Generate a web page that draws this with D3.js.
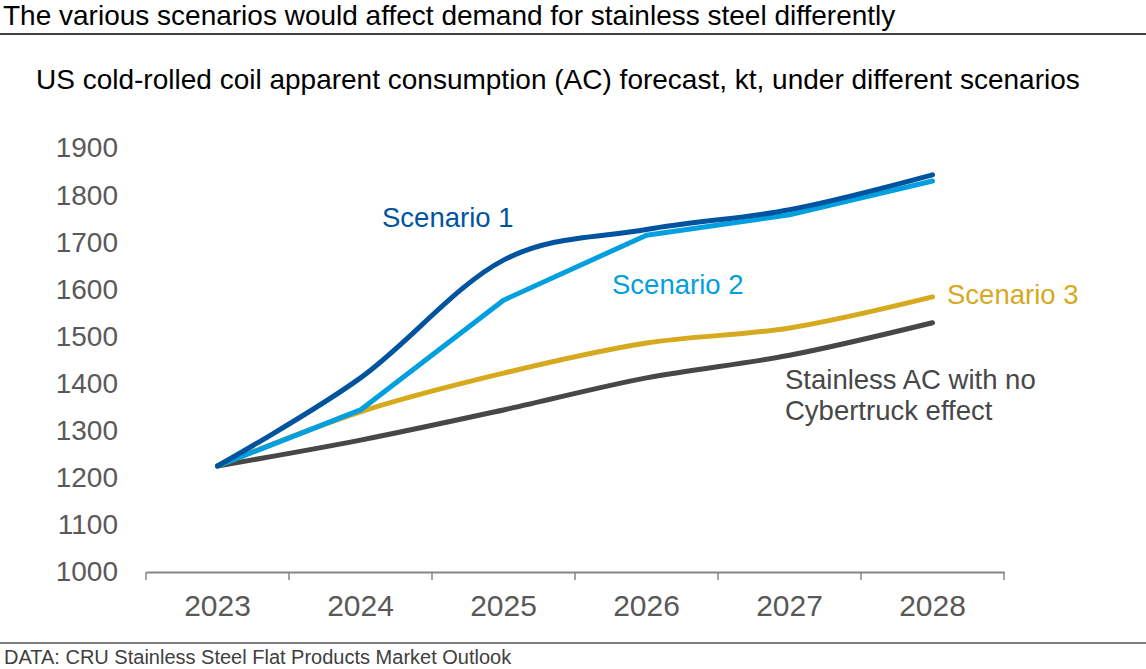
<!DOCTYPE html>
<html>
<head>
<meta charset="utf-8">
<script src="https://cdn.jsdelivr.net/npm/d3@7"></script>
<style>
  body { margin: 0; background: #fff; }
  svg { font-family: "Liberation Sans", Arial, sans-serif; display: block; }
</style>
</head>
<body>
<div id="chart"></div>
<script>
const width = 1146, height = 669;

// data
const years = ["2023", "2024", "2025", "2026", "2027", "2028"];
const scenario1 = [1225, 1412, 1662, 1727, 1769, 1843];
const scenario2 = [1225, 1344, 1577, 1715, 1758, 1830];
const scenario3 = [1225, 1340, 1422, 1486, 1518, 1584];
const noCybertruck = [1225, 1280, 1344, 1412, 1460, 1529];
const yTicks = [1000, 1100, 1200, 1300, 1400, 1500, 1600, 1700, 1800, 1900];

const svg = d3.select("#chart").append("svg")
    .attr("width", width)
    .attr("height", height);

// heading and rule
svg.append("text")
    .attr("x", 3).attr("y", 25)
    .attr("font-size", 28)
    .attr("fill", "#000")
    .text("The various scenarios would affect demand for stainless steel differently");
svg.append("line")
    .attr("x1", 0).attr("x2", width)
    .attr("y1", 34).attr("y2", 34)
    .attr("stroke", "#000").attr("stroke-width", 1.5);

svg.append("text")
    .attr("x", 36).attr("y", 89)
    .attr("font-size", 28)
    .attr("fill", "#000")
    .text("US cold-rolled coil apparent consumption (AC) forecast, kt, under different scenarios");

const x = d3.scaleBand()
    .domain(years)
    .range([146, 1004]);

const y = d3.scaleLinear()
    .domain([1000, 1900])
    .range([572, 148]);

// y axis: labels only
const yAxis = svg.append("g")
    .attr("transform", "translate(130,0)")
    .call(d3.axisLeft(y).tickValues(yTicks).tickFormat(d3.format("d")).tickSize(0).tickPadding(12));
yAxis.select(".domain").remove();
yAxis.selectAll("text")
    .attr("font-size", 28)
    .attr("font-family", "Liberation Sans, Arial, sans-serif")
    .attr("fill", "#595959");

// x axis
const xAxis = svg.append("g")
    .attr("transform", "translate(0,572)")
    .call(d3.axisBottom(x).tickSize(0).tickPadding(23));
xAxis.select(".domain").attr("stroke", "#868686").attr("stroke-width", 2);
xAxis.selectAll("text")
    .attr("font-size", 30)
    .attr("font-family", "Liberation Sans, Arial, sans-serif")
    .attr("fill", "#595959");
// tick marks sit on the band edges
const edges = years.map(d => x(d)).concat([x.range()[1]]);
xAxis.selectAll(".edge")
    .data(edges)
    .enter().append("line")
    .attr("class", "edge")
    .attr("x1", d => d).attr("x2", d => d)
    .attr("y1", 0).attr("y2", 8)
    .attr("stroke", "#868686").attr("stroke-width", 1.5);

const cx = d => x(d) + x.bandwidth() / 2;

const series = [
    { name: "noCyber", values: noCybertruck, color: "#474747", smooth: true },
    { name: "s3", values: scenario3, color: "#d6a91e", smooth: true },
    { name: "s2", values: scenario2, color: "#009fdf", smooth: false },
    { name: "s1", values: scenario1, color: "#00539f", smooth: true }
];

series.forEach(s => {
    const line = d3.line()
        .x((d, i) => cx(years[i]))
        .y(d => y(d))
        .curve(s.smooth ? d3.curveCatmullRom.alpha(0) : d3.curveLinear);
    svg.append("path")
        .datum(s.values)
        .attr("d", line)
        .attr("fill", "none")
        .attr("stroke", s.color)
        .attr("stroke-width", 5)
        .attr("stroke-linecap", "round")
        .attr("stroke-linejoin", "round");
});

// series labels
const labels = [
    { text: ["Scenario 1"], x: 382, y: 227, color: "#00539f" },
    { text: ["Scenario 2"], x: 612, y: 294, color: "#009fdf" },
    { text: ["Scenario 3"], x: 947, y: 304, color: "#d6a91e" },
    { text: ["Stainless AC with no", "Cybertruck effect"], x: 785, y: 389, color: "#474747" }
];
labels.forEach(l => {
    const t = svg.append("text")
        .attr("x", l.x).attr("y", l.y)
        .attr("font-size", 27.5)
        .attr("fill", l.color);
    l.text.forEach((s, i) => {
        t.append("tspan").attr("x", l.x).attr("dy", i ? 31 : 0).text(s);
    });
});

// source rule and note
svg.append("line")
    .attr("x1", 0).attr("x2", width)
    .attr("y1", 643).attr("y2", 643)
    .attr("stroke", "#000").attr("stroke-width", 1.2);
svg.append("text")
    .attr("x", 4).attr("y", 664)
    .attr("font-size", 20)
    .attr("fill", "#404040")
    .text("DATA: CRU Stainless Steel Flat Products Market Outlook");
</script>
</body>
</html>
